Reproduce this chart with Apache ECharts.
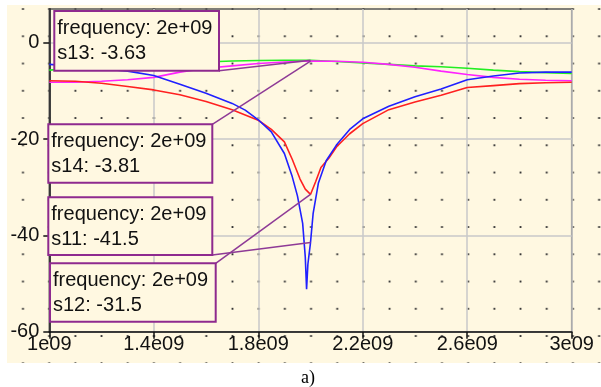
<!DOCTYPE html>
<html><head><meta charset="utf-8">
<script src="https://cdn.jsdelivr.net/npm/echarts@6/dist/echarts.min.js"></script>
<style>
html,body{margin:0;padding:0;background:#fff;}
#bg{position:absolute;left:7px;top:5px;width:594px;height:358px;background-color:#fff8e1;
background-image:radial-gradient(circle, #333 0.8px, rgba(0,0,0,0) 1.3px);
background-size:26.2px 27.25px;background-position:2.9px -9.6px;}
#chart{position:absolute;left:0;top:0;width:601px;height:387px;}
</style></head><body>
<div id="bg"></div><div id="chart"></div>
<script>
// axis ticks
const xTickValues = [1.0, 1.4, 1.8, 2.2, 2.6, 3.0];
const xTickLabels = ['1e09', '1.4e09', '1.8e09', '2.2e09', '2.6e09', '3e09'];
const yTickValues = [-60, -40, -20, 0];
const yTickLabels = ['-60', '-40', '-20', '0'];

// s11 (blue), frequency in GHz, value in dB
const s11Freq = [1.0,1.1,1.2,1.3,1.4,1.5,1.6,1.7,1.75,1.8,1.85,1.9,1.93,1.95,1.97,1.98,1.985,1.99,2.0,2.01,2.03,2.06,2.1,2.15,2.2,2.3,2.4,2.5,2.6,2.7,2.8,2.9,3.0];
const s11Db   = [-4.5,-4.9,-5.4,-5.9,-6.8,-8.6,-10.5,-12.6,-14.0,-16.0,-18.5,-23.0,-27.8,-31.8,-37.5,-44.5,-51.2,-46.0,-41.5,-35.5,-29.2,-24.5,-21.2,-18.0,-15.8,-13.2,-11.2,-9.6,-7.7,-6.9,-6.3,-6.1,-6.1];

// s12 (red)
const s12Freq = [1.0,1.1,1.2,1.3,1.4,1.5,1.6,1.7,1.8,1.85,1.9,1.93,1.96,1.98,2.0,2.02,2.04,2.07,2.1,2.15,2.2,2.3,2.4,2.5,2.6,2.7,2.8,2.9,3.0];
const s12Db   = [-7.9,-8.0,-8.4,-9.1,-9.8,-10.8,-12.2,-13.9,-16.1,-18.0,-20.6,-24.2,-28.3,-30.4,-31.5,-28.8,-25.9,-24.0,-21.6,-18.9,-16.8,-13.9,-12.3,-10.9,-9.3,-8.9,-8.5,-8.3,-8.2];

// s13 (green)
const s13Freq = [1.0,1.1,1.2,1.3,1.4,1.5,1.6,1.7,1.8,1.9,2.0,2.1,2.2,2.3,2.4,2.5,2.6,2.7,2.8,2.9,3.0];
const s13Db   = [-5.7,-5.3,-5.0,-4.7,-4.4,-4.2,-4.0,-3.8,-3.7,-3.65,-3.63,-3.9,-4.2,-4.5,-4.8,-5.0,-5.3,-5.7,-6.0,-6.2,-6.4];

// s14 (magenta)
const s14Freq = [1.0,1.1,1.2,1.3,1.4,1.5,1.6,1.7,1.8,1.9,2.0,2.1,2.2,2.3,2.4,2.5,2.6,2.7,2.8,2.9,3.0];
const s14Db   = [-8.2,-8.2,-8.0,-7.7,-7.2,-6.1,-5.3,-4.8,-4.3,-4.0,-3.81,-3.85,-4.05,-4.5,-5.1,-5.9,-6.6,-7.2,-7.6,-7.8,-7.9];

// markers
const markerNames  = ['s13', 's14', 's11', 's12'];
const markerFreq   = [2.0, 2.0, 2.0, 2.0];
const markerFreqText = ['2e+09', '2e+09', '2e+09', '2e+09'];
const markerValues = [-3.63, -3.81, -41.5, -31.5];

// marker box layout (pixels) and the corner the leader line starts from
const markerBoxes = [
  {x: 54.3, y: 11,    w: 164.7, h: 59.7, ax: 219,   ay: 70.7},
  {x: 48.3, y: 124.3, w: 164,   h: 58.4, ax: 212.3, ay: 124.3},
  {x: 48.3, y: 197.3, w: 164,   h: 57.7, ax: 212.3, ay: 255},
  {x: 50,   y: 263.3, w: 165.7, h: 58.4, ax: 215.7, ay: 263.3}
];

const zip = (a, b) => a.map((v, i) => [v, b[i]]);
const FONT = '"Liberation Sans", Arial, sans-serif';
const CREAM = '#fff8e1';

const chart = echarts.init(document.getElementById('chart'), null, {renderer: 'canvas'});
const lineSeries = (data, color) => ({
  type: 'line', data: data, symbol: 'none', smooth: false,
  lineStyle: {color: color, width: 1.6}, itemStyle: {color: color}, z: 3
});

chart.setOption({
  backgroundColor: 'transparent',
  animation: false,
  title: {
    text: 'a)', left: 296, top: 364,
    textStyle: {fontFamily: '"Liberation Serif", "Times New Roman", serif', fontSize: 18, fontWeight: 'normal', color: '#000'}
  },
  grid: {left: 49.3, right: 29.3, top: 9, bottom: 55.3, show: true, borderColor: '#555', borderWidth: 1.5, backgroundColor: 'transparent'},
  xAxis: {
    type: 'value', min: 1.0, max: 3.0,
    axisLine: {show: true, onZero: false, lineStyle: {color: '#111', width: 1.5}},
    axisTick: {show: true, inside: false, length: 7, lineStyle: {color: '#111', width: 1.5}, customValues: xTickValues},
    axisLabel: {
      customValues: xTickValues, margin: 3, color: '#111', fontFamily: FONT, fontSize: 20,
      formatter: v => { const i = xTickValues.findIndex(t => Math.abs(t - v) < 1e-6); return i >= 0 ? xTickLabels[i] : ''; }
    },
    splitLine: {show: true, lineStyle: {color: '#c8c8c8', width: 1.5}}
  },
  yAxis: {
    type: 'value', min: -60, max: 7,
    axisLine: {show: true, onZero: false, lineStyle: {color: '#111', width: 1.5}},
    axisTick: {show: true, inside: false, length: 6, lineStyle: {color: '#111', width: 1.5}, customValues: yTickValues},
    axisLabel: {
      customValues: yTickValues, margin: 10, color: '#111', fontFamily: FONT, fontSize: 20,
      formatter: v => { const i = yTickValues.findIndex(t => Math.abs(t - v) < 1e-6); return i >= 0 ? yTickLabels[i] : ''; }
    },
    splitLine: {show: true, lineStyle: {color: '#c8c8c8', width: 1.5}}
  },
  series: [
    lineSeries(zip(s13Freq, s13Db), '#22ee22'),
    lineSeries(zip(s14Freq, s14Db), '#ff22ff'),
    lineSeries(zip(s12Freq, s12Db), '#ff2020'),
    lineSeries(zip(s11Freq, s11Db), '#2020ff'),
    {
      type: 'custom', clip: false, z: 10,
      data: markerFreq.map((f, i) => [f, markerValues[i]]),
      encode: {x: 0, y: 1},
      renderItem: (params, api) => {
        const i = params.dataIndex;
        const p = api.coord([api.value(0), api.value(1)]);
        const b = markerBoxes[i];
        return {
          type: 'group',
          children: [
            {type: 'line', shape: {x1: b.ax, y1: b.ay, x2: p[0], y2: p[1]}, style: {stroke: '#8e3a96', lineWidth: 1.5}},
            {type: 'rect', shape: {x: b.x, y: b.y, width: b.w, height: b.h}, style: {fill: CREAM, stroke: '#8e2a8e', lineWidth: 2}},
            {type: 'text', x: b.x + 3, y: b.y + 4.5, style: {
              text: 'frequency: ' + markerFreqText[i] + '\n' + markerNames[i] + ': ' + markerValues[i],
              font: '20px ' + FONT, lineHeight: 25, fill: '#111', verticalAlign: 'top', align: 'left'
            }}
          ]
        };
      }
    }
  ]
});
</script>
</body></html>
